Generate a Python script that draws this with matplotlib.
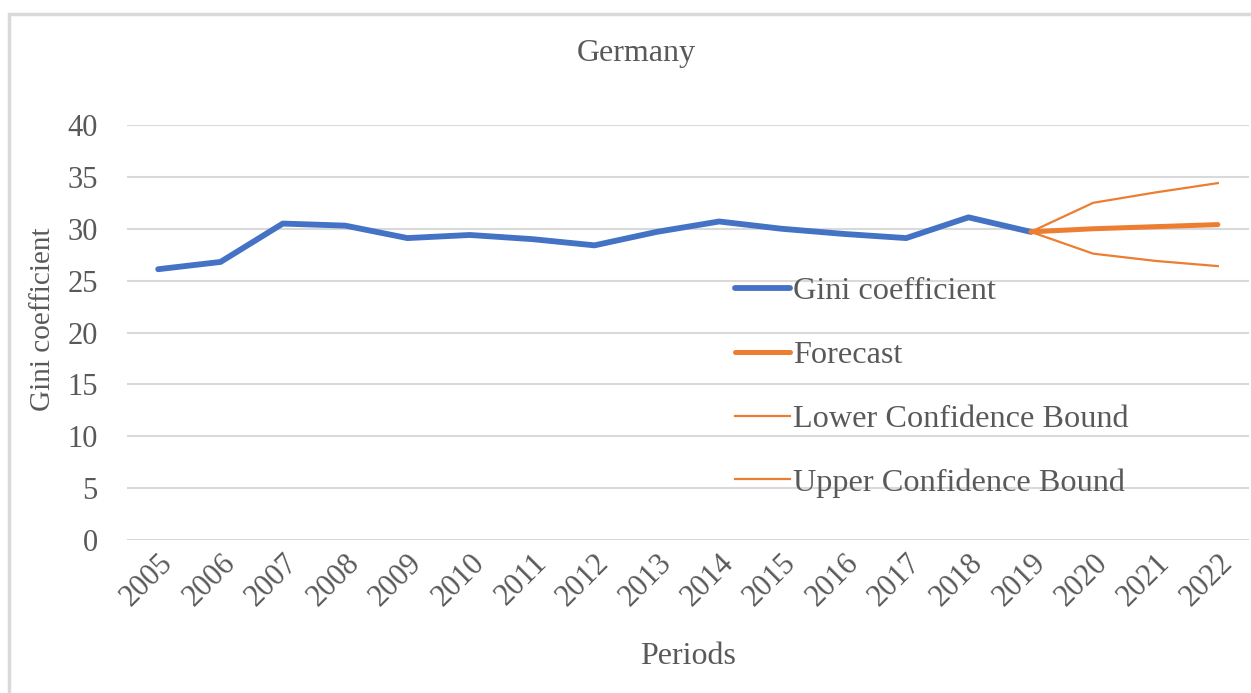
import matplotlib.pyplot as plt
from matplotlib.patches import Rectangle

years = [str(y) for y in range(2005, 2023)]
gini = [26.1, 26.8, 30.5, 30.3, 29.1, 29.4, 29.0, 28.4, 29.7, 30.7,
        30.0, 29.5, 29.1, 31.1, 29.7]
forecast = [29.7, 30.0, 30.2, 30.4]
lower = [29.7, 27.6, 26.9, 26.4]
upper = [29.7, 32.5, 33.5, 34.4]
y_ticks = [0, 5, 10, 15, 20, 25, 30, 35, 40]

BLUE = "#4472C4"
ORANGE = "#ED7D31"
TEXT = "#595959"

plt.rcParams["font.family"] = ["Liberation Serif", "DejaVu Serif"]

fig = plt.figure(figsize=(12.51, 6.93), dpi=100)
ax = fig.add_axes([127 / 1251, 1 - 540 / 693, 1122 / 1251, 415 / 693])

# light frame like the Excel chart area
fig.patches.append(Rectangle((9 / 1251, -0.05), 1.2, 1 - 14 / 693 + 0.05,
                             transform=fig.transFigure, fill=False,
                             edgecolor="#D9D9D9", linewidth=2.5))

x_hist = list(range(len(gini)))
x_fc = list(range(len(gini) - 1, len(years)))

ax.plot(x_hist, gini, color=BLUE, linewidth=4.2, solid_capstyle="round",
        label="Gini coefficient")
ax.plot(x_fc, forecast, color=ORANGE, linewidth=3.6, solid_capstyle="round",
        label="Forecast")
ax.plot(x_fc, lower, color=ORANGE, linewidth=1.6, label="Lower Confidence Bound")
ax.plot(x_fc, upper, color=ORANGE, linewidth=1.6, label="Upper Confidence Bound")

ax.set_xlim(-0.5, len(years) - 0.5)
ax.set_ylim(0, 40)
ax.set_xticks(range(len(years)))
ax.set_xticklabels(years, rotation=45, ha="right", rotation_mode="anchor")
ax.set_yticks(y_ticks)
ax.tick_params(axis="both", length=0, labelsize=22, colors=TEXT)
ax.tick_params(axis="y", pad=21)
ax.tick_params(axis="x", pad=6)
ax.grid(axis="y", color="#D9D9D9", linewidth=1.5)
ax.set_axisbelow(True)
for s in ax.spines.values():
    s.set_visible(False)

ax.set_xlabel("Periods", fontsize=23, color=TEXT, va="center")
ax.xaxis.set_label_coords((688 - 127) / 1122, (540 - 657) / 415)
ax.set_ylabel("Gini coefficient", fontsize=21, color=TEXT, va="center")
ax.yaxis.set_label_coords((43 - 127) / 1122, (540 - 319) / 415)
fig.text(636 / 1251, 1 - 54 / 693, "Germany", fontsize=23, color=TEXT,
         ha="center", va="center")

leg = ax.legend(loc="upper left", bbox_to_anchor=(0.542, 0.634), frameon=False,
                fontsize=23.2, labelcolor=TEXT, handlelength=1.7,
                handletextpad=0.1, labelspacing=1.06, borderpad=0,
                borderaxespad=0)

fig.savefig("out.png", dpi=100)
